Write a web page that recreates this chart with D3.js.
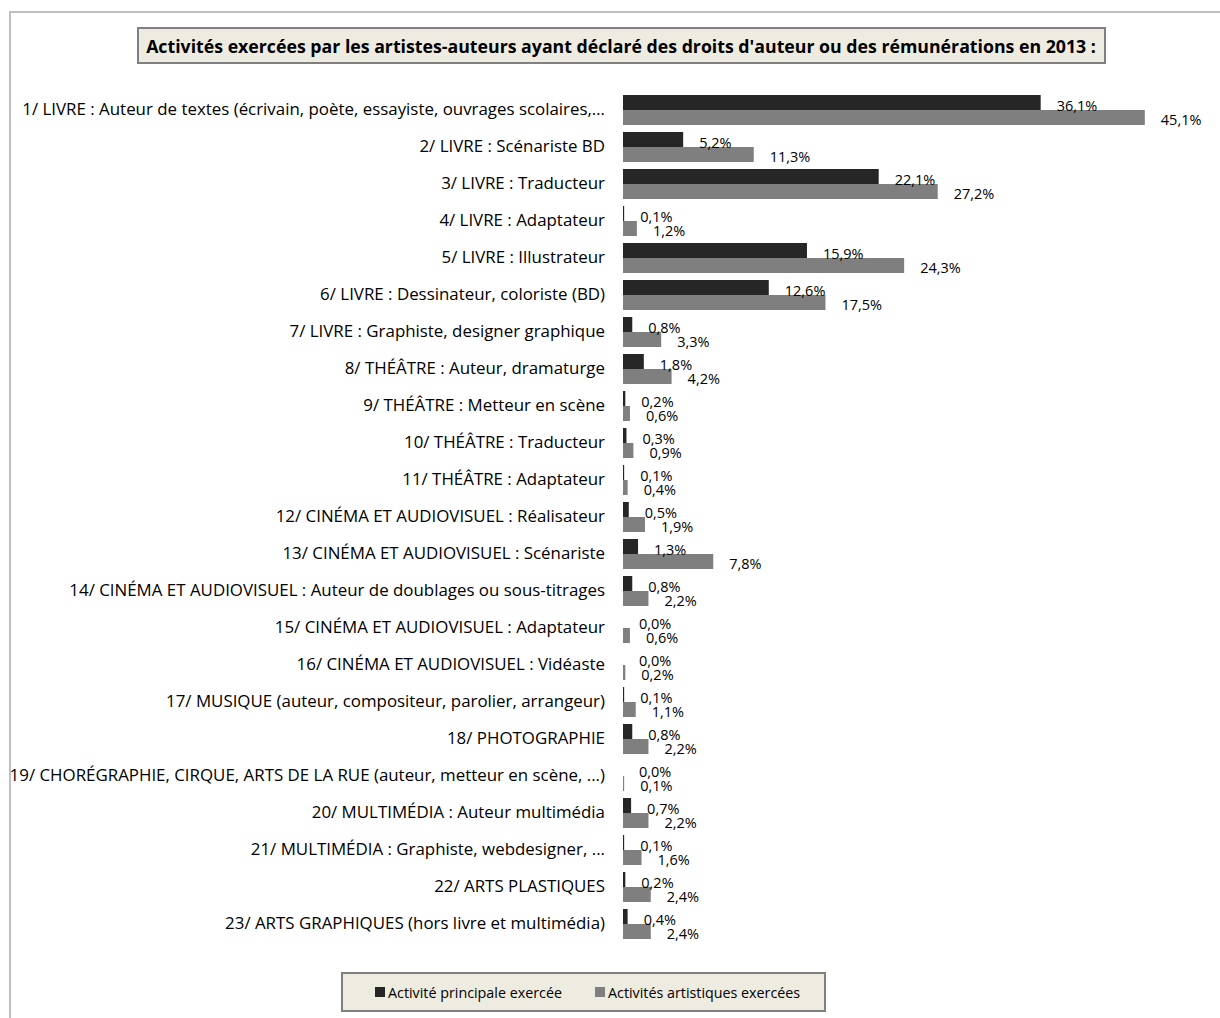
<!DOCTYPE html>
<html><head><meta charset="utf-8">
<script src="https://cdn.jsdelivr.net/npm/d3@7"></script>
<style>
html,body{margin:0;padding:0;background:#fff;}
svg{display:block;font-family:"Open Sans",Lato,sans-serif;}
</style></head>
<body>
<script>
const title = "Activités exercées par les artistes-auteurs ayant déclaré des droits d'auteur ou des rémunérations en 2013 :";
const categories = [
 "1/ LIVRE : Auteur de textes (écrivain, poète, essayiste, ouvrages scolaires,…",
 "2/ LIVRE : Scénariste BD",
 "3/ LIVRE : Traducteur",
 "4/ LIVRE : Adaptateur",
 "5/ LIVRE : Illustrateur",
 "6/ LIVRE : Dessinateur, coloriste (BD)",
 "7/ LIVRE : Graphiste, designer graphique",
 "8/ THÉÂTRE : Auteur, dramaturge",
 "9/ THÉÂTRE : Metteur en scène",
 "10/ THÉÂTRE : Traducteur",
 "11/ THÉÂTRE : Adaptateur",
 "12/ CINÉMA ET AUDIOVISUEL : Réalisateur",
 "13/ CINÉMA ET AUDIOVISUEL : Scénariste",
 "14/ CINÉMA ET AUDIOVISUEL : Auteur de doublages ou sous-titrages",
 "15/ CINÉMA ET AUDIOVISUEL : Adaptateur",
 "16/ CINÉMA ET AUDIOVISUEL : Vidéaste",
 "17/ MUSIQUE (auteur, compositeur, parolier, arrangeur)",
 "18/ PHOTOGRAPHIE",
 "19/ CHORÉGRAPHIE, CIRQUE, ARTS DE LA RUE (auteur, metteur en scène, ...)",
 "20/ MULTIMÉDIA : Auteur multimédia",
 "21/ MULTIMÉDIA : Graphiste, webdesigner, ...",
 "22/ ARTS PLASTIQUES",
 "23/ ARTS GRAPHIQUES (hors livre et multimédia)"
];
const seriesNames = ["Activité principale exercée", "Activités artistiques exercées"];
const principal = [36.1,5.2,22.1,0.1,15.9,12.6,0.8,1.8,0.2,0.3,0.1,0.5,1.3,0.8,0.0,0.0,0.1,0.8,0.0,0.7,0.1,0.2,0.4];
const artistic  = [45.1,11.3,27.2,1.2,24.3,17.5,3.3,4.2,0.6,0.9,0.4,1.9,7.8,2.2,0.6,0.2,1.1,2.2,0.1,2.2,1.6,2.4,2.4];
const colors = ["#262626", "#7f7f7f"];

const W = 1220, H = 1018;
const svg = d3.select("body").append("svg").attr("width", W).attr("height", H);

// font size that makes a text reach a target width
function fitSize(str, target, weight) {
  const t = svg.append("text").attr("font-size", 100).attr("font-weight", weight || "normal").text(str);
  const w = t.node().getComputedTextLength();
  t.remove();
  return 100 * target / w;
}
const labelSize = fitSize(categories[0], 583);
const titleSize = fitSize(title, 950, "bold");
const legendSize = fitSize(seriesNames[0], 174);
const valSize = 14.5;

// outer chart border (left & top visible)
svg.append("rect").attr("x", 10).attr("y", 12).attr("width", W).attr("height", H)
  .attr("fill", "#fff").attr("stroke", "#c0c0c0").attr("stroke-width", 2);

// title box
svg.append("rect").attr("x", 138).attr("y", 28).attr("width", 967).attr("height", 35)
  .attr("fill", "#eeece1").attr("stroke", "#808080").attr("stroke-width", 2);
svg.append("text").attr("x", 621).attr("y", 46).attr("text-anchor", "middle")
  .attr("dominant-baseline", "central").attr("font-weight", "bold").attr("font-size", titleSize)
  .attr("fill", "#000").text(title);

const x = d3.scaleLinear().domain([0, 50]).range([623, 1201.5]);
const y = d3.scaleBand().domain(categories).range([91.5, 91.5 + 851])
  .paddingInner(7/37).paddingOuter(3.5/37);
const ys = d3.scaleBand().domain([0, 1]).range([0, y.bandwidth()]);

const rows = categories.map((c, i) => ({c, vals: [principal[i], artistic[i]]}));
const fmt = v => d3.format(".1f")(v).replace(".", ",") + "%";

const g = svg.append("g");
const row = g.selectAll("g.row").data(rows).join("g").attr("class", "row")
  .attr("transform", d => `translate(0,${y(d.c)})`);

row.append("text").attr("x", 605).attr("y", y.bandwidth()/2 + 5)
  .attr("text-anchor", "end")
  .attr("font-size", labelSize).attr("fill", "#000").text(d => d.c);

row.selectAll("rect").data(d => d.vals).join("rect")
  .attr("x", x(0)).attr("y", (v, j) => ys(j))
  .attr("width", v => x(v) - x(0)).attr("height", ys.bandwidth())
  .attr("fill", (v, j) => colors[j]);

row.selectAll("text.val").data(d => d.vals).join("text").attr("class", "val")
  .attr("x", v => x(v) + 16).attr("y", (v, j) => ys(j) + ys.bandwidth() + (j === 0 ? 1 : 0))
  .attr("font-size", valSize).attr("fill", "#000")
  .text(v => fmt(v));

// legend
svg.append("rect").attr("x", 342).attr("y", 973).attr("width", 483).attr("height", 38)
  .attr("fill", "#eeece1").attr("stroke", "#808080").attr("stroke-width", 2);
const legX = [375, 595];
const leg = svg.selectAll("g.leg").data(seriesNames).join("g").attr("class", "leg")
  .attr("transform", (d, i) => `translate(${legX[i]},992)`);
leg.append("rect").attr("x", 0).attr("y", -5).attr("width", 10).attr("height", 10)
  .attr("fill", (d, i) => colors[i]);
leg.append("text").attr("x", 13).attr("y", 0).attr("dominant-baseline", "central")
  .attr("font-size", legendSize).attr("fill", "#000").text(d => d);
</script>
</body></html>
